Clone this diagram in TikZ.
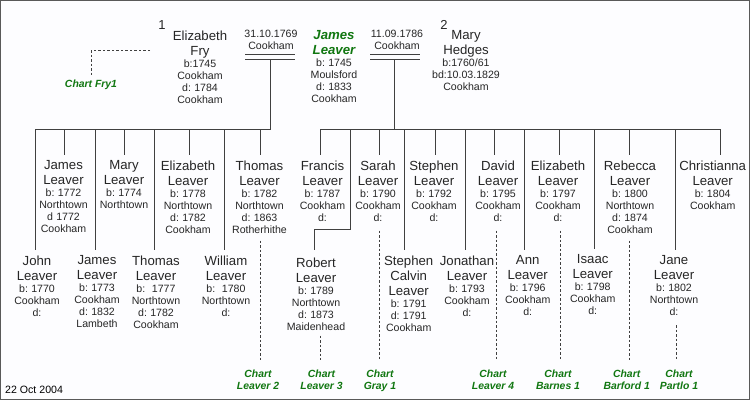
\documentclass[tikz,border=0pt]{standalone}
\usepackage{fontspec}
\setmainfont{Liberation Sans}
\definecolor{chartgreen}{HTML}{117711}
\definecolor{linegrey}{HTML}{404040}
\definecolor{paper}{HTML}{FDFDFF}
\newcommand{\pname}[1]{{\fontsize{13.2}{15}\selectfont #1\par}}
\newcommand{\pdata}[1]{{\fontsize{10.6}{12}\selectfont #1\par}}
\tikzset{
  per_n/.style = {align=center, inner sep=0pt, text width=90pt, anchor=north,
    text=black!85},% one person
  per_m/.style = {per_n, text=chartgreen},% main person
  wed_n/.style = {align=center, inner sep=0pt, text=black!85, anchor=north,
    font=\fontsize{10.6}{12}\selectfont},% wedding date and place
  chart_n/.style = {align=center, inner sep=0pt, anchor=north, text=chartgreen,
    font=\fontsize{10.4}{12}\selectfont\bfseries\itshape},% link to other chart
  kin_l/.style = {draw=linegrey, line width=0.8pt},
  chart_l/.style = {draw=linegrey, line width=0.7pt, dash pattern=on 2.5pt off 2pt}
}
\begin{document}
\frenchspacing
\begin{tikzpicture}[x=1pt,y=-1pt]
\useasboundingbox (0,0) rectangle (750,400);
\draw[fill=paper, draw=black!65, line width=1.4pt] (0.7,0.7) rectangle (749.3,399.3);

% top row
\node [wed_n, font=\fontsize{13}{15}\selectfont] (num_a) at (162,20) {1};
\node [wed_n, font=\fontsize{13}{15}\selectfont] (num_b) at (444,20) {2};
\node [per_n] (fry) at (200,30.5) {\pname{Elizabeth\\Fry}\pdata{b:1745\\Cookham\\d: 1784\\Cookham}};
\node [per_m] (james) at (334,30.5) {\pname{\bfseries\itshape James\\Leaver}\pdata{\color{black!85}b: 1745\\Moulsford\\d: 1833\\Cookham}};
\node [per_n] (hedges) at (466,30.5) {\pname{Mary\\Hedges}\pdata{b:1760/61\\bd:10.03.1829\\Cookham}};
\node [wed_n] (wed_a) at (271,29.5) {31.10.1769\\Cookham};
\node [wed_n] (wed_b) at (397,29.5) {11.09.1786\\Cookham};
\coordinate (wed_al) at (245,54.5);
\coordinate (wed_ar) at (295,54.5);
\coordinate (wed_bl) at (370,54.5);
\coordinate (wed_br) at (420,54.5);
\draw[kin_l] (wed_al) -- (wed_ar) ([yshift=-5pt]wed_al) -- ([yshift=-5pt]wed_ar);
\draw[kin_l] (wed_bl) -- (wed_br) ([yshift=-5pt]wed_bl) -- ([yshift=-5pt]wed_br);
\coordinate (drop_a) at (270.5,59.5);
\coordinate (drop_b) at (394.5,59.5);
\coordinate (bus_a) at (270.5,129.5);
\coordinate (bus_b) at (394.5,129.5);
\draw[kin_l] (drop_a) -- (bus_a);
\draw[kin_l] (drop_b) -- (bus_b);

% children, upper row
\node [per_n] (james_a) at (63.5,160.5) {\pname{James\\Leaver}\pdata{b: 1772\\Northtown\\d 1772\\Cookham}};
\node [per_n] (mary) at (124,160.5) {\pname{Mary\\Leaver}\pdata{b: 1774\\Northtown}};
\node [per_n] (eliz_a) at (188,160.5) {\pname{Elizabeth\\Leaver}\pdata{b: 1778\\Northtown\\d: 1782\\Cookham}};
\node [per_n] (thomas_a) at (259.5,160.5) {\pname{Thomas\\Leaver}\pdata{b: 1782\\Northtown\\d: 1863\\Rotherhithe}};
\node [per_n] (francis) at (322.5,160.5) {\pname{Francis\\Leaver}\pdata{b: 1787\\Cookham\\d:}};
\node [per_n] (sarah) at (378,160.5) {\pname{Sarah\\Leaver}\pdata{b: 1790\\Cookham\\d:}};
\node [per_n] (stephen) at (434,160.5) {\pname{Stephen\\Leaver}\pdata{b: 1792\\Cookham\\d:}};
\node [per_n] (david) at (498,160.5) {\pname{David\\Leaver}\pdata{b: 1795\\Cookham\\d:}};
\node [per_n] (eliz_b) at (558,160.5) {\pname{Elizabeth\\Leaver}\pdata{b: 1797\\Cookham\\d:}};
\node [per_n] (rebecca) at (630,160.5) {\pname{Rebecca\\Leaver}\pdata{b: 1800\\Northtown\\d: 1874\\Cookham}};
\node [per_n] (christ) at (712.7,160.5) {\pname{Christianna\\Leaver}\pdata{b: 1804\\Cookham}};

% children, lower row
\node [per_n] (john) at (37,255.5) {\pname{John\\Leaver}\pdata{b: 1770\\Cookham\\d:}};
\node [per_n] (james_b) at (97,255.5) {\pname{James\\Leaver}\pdata{b: 1773\\Cookham\\d: 1832\\Lambeth}};
\node [per_n] (thomas_b) at (156,255.5) {\pname{Thomas\\Leaver}\pdata{b: ~1777\\Northtown\\d: 1782\\Cookham}};
\node [per_n] (william) at (226,255.5) {\pname{William\\Leaver}\pdata{b: ~1780\\Northtown\\d:}};
\node [per_n] (robert) at (316,257.5) {\pname{Robert\\Leaver}\pdata{b: 1789\\Northtown\\d: 1873\\Maidenhead}};
\node [per_n] (calvin) at (408.7,255.5) {\pname{Stephen\\Calvin\\Leaver}\pdata{b: 1791\\d: 1791\\Cookham}};
\node [per_n] (jonathan) at (467,255.5) {\pname{Jonathan\\Leaver}\pdata{b: 1793\\Cookham\\d:}};
\node [per_n] (ann) at (527.7,255.5) {\pname{Ann\\Leaver}\pdata{b: 1796\\Cookham\\d:}};
\node [per_n] (isaac) at (592.7,254.5) {\pname{Isaac\\Leaver}\pdata{b: 1798\\Cookham\\d:}};
\node [per_n] (jane) at (674,255.5) {\pname{Jane\\Leaver}\pdata{b: 1802\\Northtown\\d:}};

% links to other charts
\node [chart_n] (c_fry) at (91,80) {Chart Fry1};
\node [chart_n] (c_leaver_b) at (258,370) {Chart\\Leaver 2};
\node [chart_n] (c_leaver_c) at (321.5,370) {Chart\\Leaver 3};
\node [chart_n] (c_gray) at (380,370) {Chart\\Gray 1};
\node [chart_n] (c_leaver_d) at (493,370) {Chart\\Leaver 4};
\node [chart_n] (c_barnes) at (558,370) {Chart\\Barnes 1};
\node [chart_n] (c_barford) at (626.7,370) {Chart\\Barford 1};
\node [chart_n] (c_partlo) at (679,370) {Chart\\Partlo 1};
\node [wed_n, anchor=west, text=black] (stamp) at (5,389.5) {22 Oct 2004};

% bus lines and drops
\foreach \n/\s in {john/-1.5,james_a/1,james_b/-1.5,mary/0.5,thomas_b/-1.5,eliz_a/1.5,william/-1.5,thomas_a/1}
  \draw[kin_l, shorten >=6pt] (bus_a) -| ([xshift=\s pt]\n.north);
\foreach \n/\s in {francis/-2,sarah/1.3,calvin/-4.4,stephen/1.3,jonathan/-1.7,david/-3.7,ann/-3.4,eliz_b/1.3,isaac/1.6,rebecca/-0.7,jane/1.3,christ/7.8}
  \draw[kin_l, shorten >=6pt] (bus_b) -| ([xshift=\s pt]\n.north);
\coordinate (bend_r) at (350.5,229.5);
\draw[kin_l, shorten >=8pt] (bus_b) -| (bend_r) -| ([xshift=-1.5pt]robert.north);

% dashed chart lines
\coordinate (fry_end) at (150,50.5);
\draw[chart_l, shorten >=5pt] (fry_end) -| (c_fry.north);
\foreach \n/\c/\s/\g in {thomas_a/c_leaver_b/1/7,robert/c_leaver_c/4.5/5,sarah/c_gray/1.5/9,david/c_leaver_d/-1.3/9,eliz_b/c_barnes/2.3/9,rebecca/c_barford/-0.7/7,jane/c_partlo/2.3/9}
  \draw[chart_l, shorten <=\g pt, shorten >=10pt] ([xshift=\s pt]\n.south) -- ([xshift=\s pt]\n.south |- \c.north);
\end{tikzpicture}
\end{document}
